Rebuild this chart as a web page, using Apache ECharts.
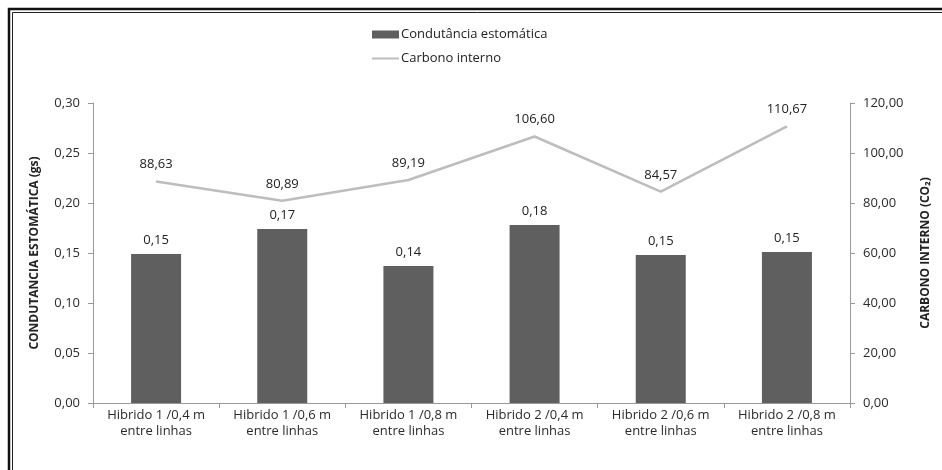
<!DOCTYPE html>
<html>
<head>
<meta charset="utf-8">
<script src="https://cdn.jsdelivr.net/npm/echarts@6/dist/echarts.min.js"></script>
<style>
  html, body { margin: 0; padding: 0; background: #fff; overflow: hidden; }
  #chart { position: absolute; left: 0; top: 0; width: 942px; height: 470px; }
</style>
</head>
<body>
<div id="chart"></div>
<script>
// Treatments (hybrid / row spacing)
const categories = [
  'Hibrido 1 /0,4 m\nentre linhas',
  'Hibrido 1 /0,6 m\nentre linhas',
  'Hibrido 1 /0,8 m\nentre linhas',
  'Hibrido 2 /0,4 m\nentre linhas',
  'Hibrido 2 /0,6 m\nentre linhas',
  'Hibrido 2 /0,8 m\nentre linhas'
];
// Stomatal conductance (gs)
const condutancia = [0.149, 0.174, 0.137, 0.178, 0.148, 0.151];
// Internal carbon (CO2)
const carbono = [88.63, 80.89, 89.19, 106.60, 84.57, 110.67];
// Axis ranges
const leftMax = 0.30, leftStep = 0.05;
const rightMax = 120, rightStep = 20;

const comma = (v, d) => v.toFixed(d).replace('.', ',');
const FONT = '"Open Sans", "Noto Sans", sans-serif';
const txt = '#2b2b2b';
const lineGrey = '#bdbdbd';

const chart = echarts.init(document.getElementById('chart'), null, { renderer: 'canvas' });
chart.setOption({
  animation: false,
  backgroundColor: '#fff',
  textStyle: { fontFamily: FONT },
  // double frame along the top and left edges
  graphic: [
    { type: 'polyline', silent: true, z: 100,
      shape: { points: [[9, 470], [9, 9], [942, 9]] },
      style: { stroke: '#111', lineWidth: 2.5, fill: null } },
    { type: 'polyline', silent: true, z: 100,
      shape: { points: [[12.5, 470], [12.5, 12.5], [942, 12.5]] },
      style: { stroke: '#222', lineWidth: 1, fill: null } }
  ],
  legend: {
    orient: 'vertical',
    left: 367, top: 23,
    itemWidth: 27, itemHeight: 8, itemGap: 11,
    textStyle: { fontSize: 13, color: '#222', fontFamily: FONT, padding: [0, 0, 0, -3] },
    data: [
      { name: 'Condutância estomática', icon: 'rect' },
      { name: 'Carbono interno', icon: 'path://M0,0 L27,0 L27,2 L0,2 Z',
        itemStyle: { color: lineGrey, opacity: 1 } }
    ]
  },
  grid: { left: 93, right: 92, top: 103, bottom: 67 },
  xAxis: {
    type: 'category',
    data: categories,
    axisLine: { lineStyle: { color: '#999', width: 1 } },
    axisTick: { show: true, alignWithLabel: false, length: 5, lineStyle: { color: '#999' } },
    axisLabel: { color: txt, fontSize: 13, fontFamily: FONT, margin: 4, lineHeight: 16, interval: 0 }
  },
  yAxis: [
    {
      type: 'value', min: 0, max: leftMax, interval: leftStep,
      name: 'CONDUTANCIA ESTOMÁTICA (gs)',
      nameLocation: 'middle', nameRotate: 90, nameGap: 52,
      nameTextStyle: { fontSize: 12, fontWeight: 'bold', color: '#222', fontFamily: FONT },
      axisLine: { show: true, lineStyle: { color: '#999' } },
      axisTick: { show: true, length: 5, lineStyle: { color: '#999' } },
      splitLine: { show: false },
      axisLabel: { color: txt, fontSize: 13, margin: 13, fontFamily: FONT, formatter: v => comma(v, 2) }
    },
    {
      type: 'value', min: 0, max: rightMax, interval: rightStep,
      name: 'CARBONO INTERNO (CO₂)',
      nameLocation: 'middle', nameRotate: 90, nameGap: 70,
      nameTextStyle: { fontSize: 12, fontWeight: 'bold', color: '#222', fontFamily: FONT },
      axisLine: { show: true, lineStyle: { color: '#999' } },
      axisTick: { show: true, length: 5, lineStyle: { color: '#999' } },
      splitLine: { show: false },
      axisLabel: { color: txt, fontSize: 13, margin: 13, fontFamily: FONT, formatter: v => comma(v, 2) }
    }
  ],
  series: [
    {
      name: 'Condutância estomática',
      type: 'bar',
      yAxisIndex: 0,
      data: condutancia,
      barWidth: 50,
      itemStyle: { color: '#5f5f5f' },
      label: { show: true, position: 'top', distance: 7, color: '#222', fontSize: 13, fontFamily: FONT,
               formatter: p => comma(p.value, 2) }
    },
    {
      name: 'Carbono interno',
      type: 'line',
      yAxisIndex: 1,
      data: carbono,
      symbol: 'circle',
      symbolSize: 0.5,
      showSymbol: true,
      lineStyle: { color: lineGrey, width: 2.5 },
      itemStyle: { color: lineGrey },
      label: { show: true, position: 'top', distance: 10, color: '#222', fontSize: 13, fontFamily: FONT,
               formatter: p => comma(p.value, 2) },
      labelLayout: { hideOverlap: false },
      z: 3
    }
  ]
});
</script>
</body>
</html>
